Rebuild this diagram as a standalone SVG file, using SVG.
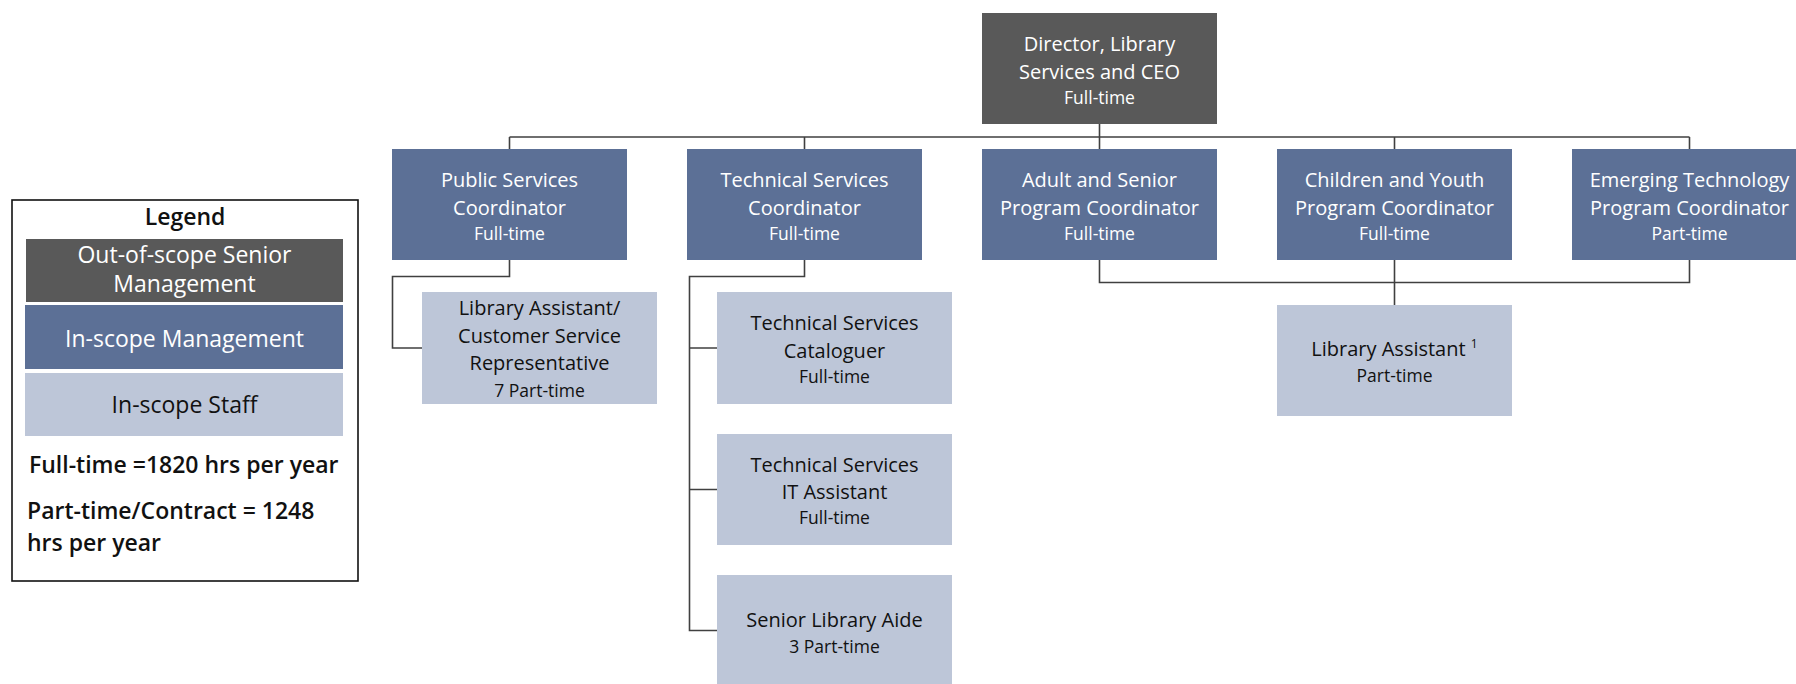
<svg xmlns="http://www.w3.org/2000/svg" width="1796" height="684" viewBox="0 0 1796 684">
<style>
.bg{fill:#ffffff}
.exec{fill:#595959}
.mgmt{fill:#5C7096}
.staff{fill:#BDC6D8}
.t{font-family:"Open Sans","Noto Sans","Liberation Sans",sans-serif;text-anchor:middle;font-weight:500}
.w{fill:#ffffff}
.k{fill:#111111}
.big{font-size:20px}
.sm{font-size:17.5px}
.lg{font-family:"Open Sans","Noto Sans","Liberation Sans",sans-serif;font-size:23px}
.conn{fill:none;stroke:#404040;stroke-width:1.6}
</style>
<rect class="bg" x="0" y="0" width="1796" height="684"/>

<g id="legend">
  <rect x="12" y="200" width="346" height="381" fill="none" stroke="#111" stroke-width="1.6"/>
  <text class="lg k" x="185" y="225" text-anchor="middle" font-size="21" font-weight="600">Legend</text>
  <rect class="exec" x="26" y="239" width="317" height="63"/>
  <text class="lg w" x="184.5" y="263" text-anchor="middle">Out-of-scope Senior</text>
  <text class="lg w" x="184.5" y="291.5" text-anchor="middle">Management</text>
  <rect class="mgmt" x="25" y="305" width="318" height="64"/>
  <text class="lg w" x="184.5" y="346.5" text-anchor="middle">In-scope Management</text>
  <rect class="staff" x="25" y="373" width="318" height="63"/>
  <text class="lg k" x="184.5" y="412.5" text-anchor="middle">In-scope Staff</text>
  <text class="lg k" x="29" y="472.5" font-size="21.5" font-weight="600">Full-time =1820 hrs per year</text>
  <text class="lg k" x="27" y="519" font-size="21.5" font-weight="600">Part-time/Contract = 1248</text>
  <text class="lg k" x="27" y="551" font-size="21.5" font-weight="600">hrs per year</text>
</g>

<g id="connectors">
  <path class="conn" d="M1099.5 124 V137 M509.5 137 H1689.5 M509.5 137 V149 M804.5 137 V149 M1099.5 137 V149 M1394.5 137 V149 M1689.5 137 V149"/>
  <path class="conn" d="M509.5 260 V276.5 H392.5 V348 H422"/>
  <path class="conn" d="M804.5 260 V276.5 H689.5 V630.5 H717 M689.5 348 H717 M689.5 489.5 H717"/>
  <path class="conn" d="M1099.5 260 V282.5 H1689.5 V260 M1394.5 260 V305"/>
</g>

<g id="director">
  <rect class="exec" x="982" y="13" width="235" height="111"/>
  <text class="t w big" x="1099.5" y="51">Director, Library</text>
  <text class="t w big" x="1099.5" y="79">Services and CEO</text>
  <text class="t w sm" x="1099.5" y="104">Full-time</text>
</g>

<g id="public-services">
  <rect class="mgmt" x="392" y="149" width="235" height="111"/>
  <text class="t w big" x="509.5" y="187">Public Services</text>
  <text class="t w big" x="509.5" y="215">Coordinator</text>
  <text class="t w sm" x="509.5" y="240">Full-time</text>
</g>

<g id="technical-services">
  <rect class="mgmt" x="687" y="149" width="235" height="111"/>
  <text class="t w big" x="804.5" y="187">Technical Services</text>
  <text class="t w big" x="804.5" y="215">Coordinator</text>
  <text class="t w sm" x="804.5" y="240">Full-time</text>
</g>

<g id="adult-senior">
  <rect class="mgmt" x="982" y="149" width="235" height="111"/>
  <text class="t w big" x="1099.5" y="187">Adult and Senior</text>
  <text class="t w big" x="1099.5" y="215">Program Coordinator</text>
  <text class="t w sm" x="1099.5" y="240">Full-time</text>
</g>

<g id="children-youth">
  <rect class="mgmt" x="1277" y="149" width="235" height="111"/>
  <text class="t w big" x="1394.5" y="187">Children and Youth</text>
  <text class="t w big" x="1394.5" y="215">Program Coordinator</text>
  <text class="t w sm" x="1394.5" y="240">Full-time</text>
</g>

<g id="emerging-tech">
  <rect class="mgmt" x="1572" y="149" width="235" height="111"/>
  <text class="t w big" x="1689.5" y="187">Emerging Technology</text>
  <text class="t w big" x="1689.5" y="215">Program Coordinator</text>
  <text class="t w sm" x="1689.5" y="240">Part-time</text>
</g>

<g id="library-assistant-csr">
  <rect class="staff" x="422" y="292" width="235" height="112"/>
  <text class="t k big" x="539.5" y="315">Library Assistant/</text>
  <text class="t k big" x="539.5" y="343">Customer Service</text>
  <text class="t k big" x="539.5" y="370">Representative</text>
  <text class="t k sm" x="539.5" y="396.5">7 Part-time</text>
</g>

<g id="cataloguer">
  <rect class="staff" x="717" y="292" width="235" height="112"/>
  <text class="t k big" x="834.5" y="330">Technical Services</text>
  <text class="t k big" x="834.5" y="358">Cataloguer</text>
  <text class="t k sm" x="834.5" y="383">Full-time</text>
</g>

<g id="it-assistant">
  <rect class="staff" x="717" y="434" width="235" height="111"/>
  <text class="t k big" x="834.5" y="471.5">Technical Services</text>
  <text class="t k big" x="834.5" y="499">IT Assistant</text>
  <text class="t k sm" x="834.5" y="524">Full-time</text>
</g>

<g id="senior-library-aide">
  <rect class="staff" x="717" y="575" width="235" height="111"/>
  <text class="t k big" x="834.5" y="627">Senior Library Aide</text>
  <text class="t k sm" x="834.5" y="652.5">3 Part-time</text>
</g>

<g id="library-assistant">
  <rect class="staff" x="1277" y="305" width="235" height="111"/>
  <text class="t k big" x="1394.5" y="356">Library Assistant <tspan font-size="12" dy="-8">1</tspan></text>
  <text class="t k sm" x="1394.5" y="381.5">Part-time</text>
</g>
</svg>
